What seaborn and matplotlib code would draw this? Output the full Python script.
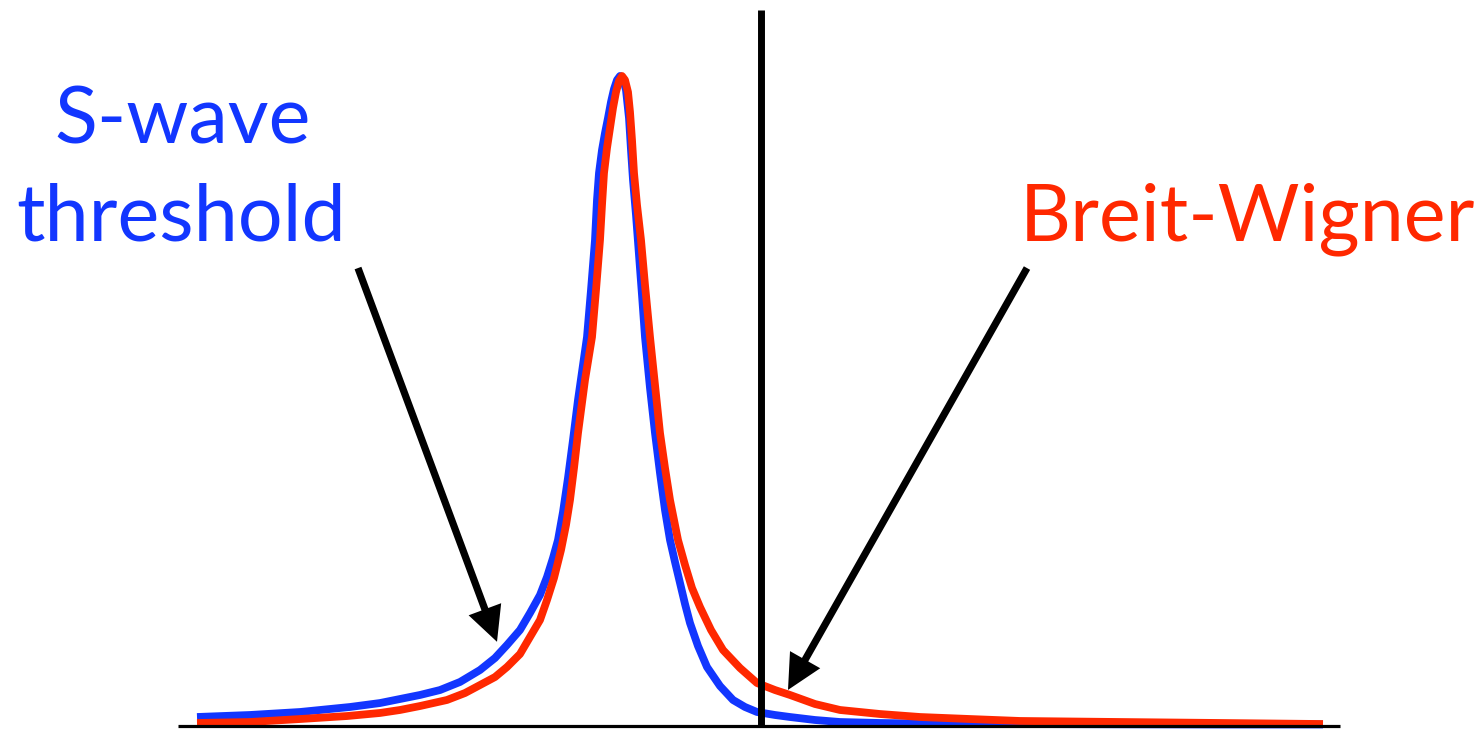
import numpy as np
import pandas as pd
import matplotlib
matplotlib.use('Agg')
import matplotlib.pyplot as plt
import seaborn as sns

# energy relative to threshold (arb. units) and normalised line shape
swave_E = [-5.64, -5.11, -4.61, -4.11, -3.81, -3.61, -3.41, -3.21, -3.01, -2.81, -2.66, -2.54,
           -2.41, -2.31, -2.21, -2.14, -2.08, -2.03, -1.98, -1.93, -1.88, -1.83, -1.78, -1.74,
           -1.70, -1.66, -1.64, -1.62, -1.59, -1.56, -1.53, -1.50, -1.47, -1.44, -1.41, -1.38,
           -1.35, -1.32, -1.30, -1.28, -1.25, -1.22, -1.19, -1.16, -1.11, -1.06, -1.01, -0.96,
           -0.91, -0.86, -0.81, -0.76, -0.71, -0.63, -0.54, -0.41, -0.28, -0.16, -0.04, 0.14,
           0.29, 0.54, 0.79, 1.19, 1.59, 2.59, 3.59, 4.59, 5.62]
swave_I = [0.0123, 0.0154, 0.0200, 0.0277, 0.0338, 0.0400, 0.0462, 0.0538, 0.0662, 0.0846,
           0.1031, 0.1231, 0.1462, 0.1723, 0.2000, 0.2277, 0.2569, 0.2846, 0.3277, 0.3800,
           0.4385, 0.5000, 0.5538, 0.5969, 0.6692, 0.7462, 0.8077, 0.8492, 0.8846, 0.9108,
           0.9338, 0.9585, 0.9785, 0.9923, 0.9985, 0.9938, 0.9769, 0.9338, 0.8846, 0.8385,
           0.7846, 0.7231, 0.6615, 0.5969, 0.5185, 0.4492, 0.3877, 0.3308, 0.2846, 0.2508,
           0.2185, 0.1862, 0.1569, 0.1215, 0.0892, 0.0600, 0.0385, 0.0277, 0.0200, 0.0154,
           0.0123, 0.0077, 0.0046, 0.0031, 0.0023, 0.0015, 0.0011, 0.0008, 0.0008]

bw_E = [-5.64, -5.11, -4.61, -4.14, -3.81, -3.61, -3.41, -3.14, -2.96, -2.81, -2.66, -2.54,
        -2.41, -2.31, -2.21, -2.14, -2.07, -2.00, -1.95, -1.91, -1.87, -1.83, -1.76, -1.69,
        -1.65, -1.61, -1.59, -1.57, -1.54, -1.51, -1.48, -1.45, -1.42, -1.39, -1.36, -1.33,
        -1.31, -1.29, -1.27, -1.24, -1.20, -1.16, -1.11, -1.06, -1.01, -0.96, -0.91, -0.83,
        -0.76, -0.69, -0.61, -0.50, -0.38, -0.21, -0.04, 0.14, 0.29, 0.54, 0.79, 1.19, 1.59,
        2.09, 2.59, 3.59, 4.59, 5.62]
bw_I = [0.0031, 0.0046, 0.0092, 0.0138, 0.0185, 0.0231, 0.0292, 0.0385, 0.0492, 0.0615,
        0.0738, 0.0892, 0.1092, 0.1354, 0.1615, 0.1923, 0.2262, 0.2692, 0.3077, 0.3462,
        0.3954, 0.4492, 0.5308, 0.5969, 0.6692, 0.7462, 0.8000, 0.8492, 0.8877, 0.9185,
        0.9492, 0.9738, 0.9908, 0.9985, 0.9923, 0.9738, 0.9431, 0.9000, 0.8492, 0.8000,
        0.7462, 0.6769, 0.5969, 0.5231, 0.4492, 0.3954, 0.3462, 0.2846, 0.2462, 0.2108,
        0.1815, 0.1462, 0.1154, 0.0877, 0.0646, 0.0538, 0.0462, 0.0323, 0.0231, 0.0169,
        0.0123, 0.0092, 0.0062, 0.0046, 0.0031, 0.0015]

threshold_E = 0.0
labels = ['S-wave', 'threshold', 'Breit-Wigner']

blue = '#1236ff'
red = '#ff2800'

sns.set_theme(style='white')
plt.rcParams['font.family'] = ['Lato', 'DejaVu Sans']

swave = pd.DataFrame({'E': swave_E, 'I': swave_I})
bw = pd.DataFrame({'E': bw_E, 'I': bw_I})

fig = plt.figure(figsize=(14.83, 7.29), dpi=100)
ax = fig.add_axes([0, 0, 1, 1])

sns.lineplot(x='E', y='I', data=swave, color=blue, linewidth=5.6, estimator=None, ax=ax,
             solid_joinstyle='round', solid_capstyle='butt')
sns.lineplot(x='E', y='I', data=bw, color=red, linewidth=5.6, estimator=None, ax=ax,
             solid_joinstyle='round', solid_capstyle='butt')

# threshold and baseline
ax.vlines(threshold_E, -0.003, 1.10, color='black', linewidth=5.0, zorder=5)
ax.hlines(-0.0023, -5.83, 5.79, color='black', linewidth=2.3, zorder=5)

# labels
ax.text(-5.78, 0.895, labels[0], color=blue, fontsize=57, ha='center', va='baseline')
ax.text(-5.80, 0.746, labels[1], color=blue, fontsize=57, ha='center', va='baseline')
ax.text(4.86, 0.745, labels[2], color=red, fontsize=57, ha='center', va='baseline')

# arrows
arrow = dict(facecolor='black', edgecolor='none', width=5.2, headwidth=25, headlength=25, shrink=0)
ax.annotate('', xy=(-2.64, 0.128), xytext=(-4.03, 0.703), arrowprops=arrow)
ax.annotate('', xy=(0.27, 0.054), xytext=(2.66, 0.703), arrowprops=arrow)

ax.set_xlim(-7.61, 7.22)
ax.set_ylim(-0.00615, 1.1154)
ax.set_axis_off()

fig.savefig('out.png', dpi=100)
